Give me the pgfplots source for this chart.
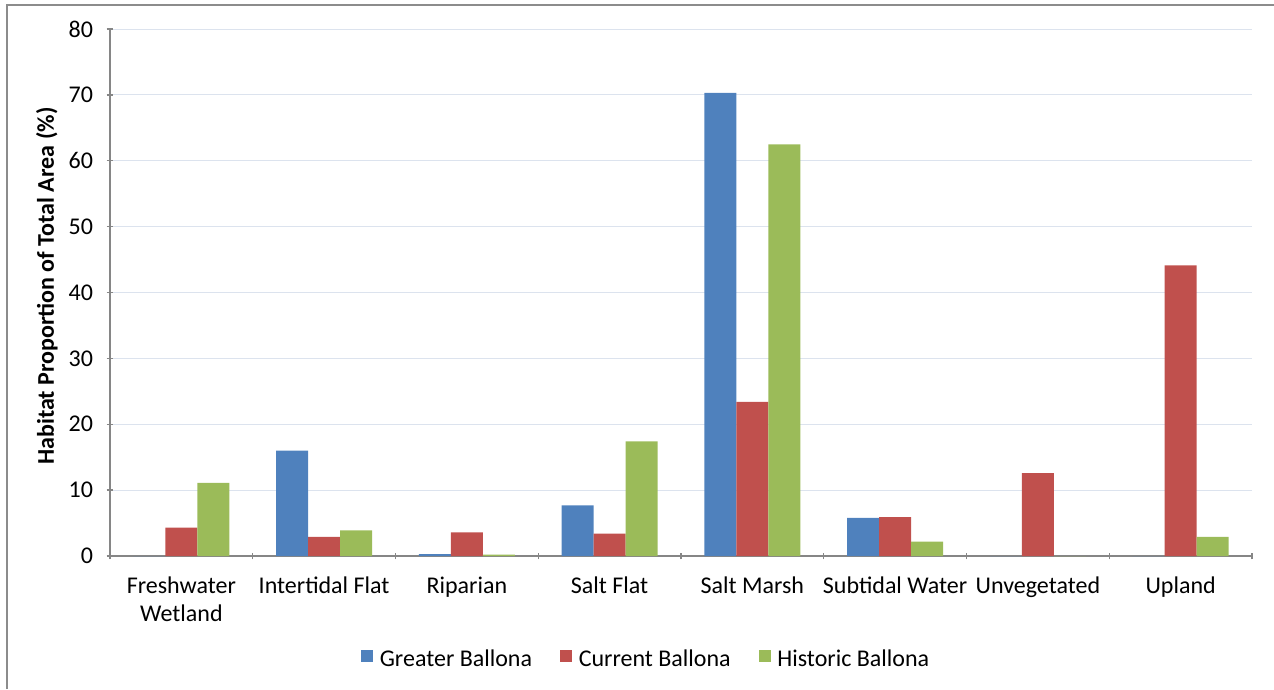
\documentclass[border=0pt]{standalone}
\usepackage{pgfplots}
\pgfplotsset{compat=1.18}
\usepackage{fontspec}
\setmainfont{Carlito}
\definecolor{cgreater}{HTML}{4F81BD}
\definecolor{ccurrent}{HTML}{C0504D}
\definecolor{chistoric}{HTML}{9BBB59}
\definecolor{gridc}{HTML}{DCE3EE}
\definecolor{axisc}{HTML}{868686}
\definecolor{framec}{HTML}{8C8C8C}
\begin{document}
\fontsize{18}{21}\selectfont
\begin{tikzpicture}
\path[use as bounding box] (0,0) rectangle (955.5pt,516.75pt);
\begin{axis}[
    at={(82.5pt,99.75pt)}, anchor=south west,
    scale only axis, width=856.5pt, height=395.25pt,
    ybar=0pt, bar width=0.224,
    xmin=-0.5, xmax=7.5, ymin=0, ymax=80,
    ytick={0,10,...,80},
    xtick={0,...,7},
    xticklabels={Freshwater\\Wetland, Intertidal Flat, Riparian, Salt Flat, Salt Marsh, Subtidal Water, Unvegetated, Upland},
    minor xtick={-0.5,0.5,...,7.5},
    xtick style={draw=none},
    minor x tick style={draw=axisc, line width=1pt},
    y tick style={draw=axisc, line width=1pt},
    major tick length=5pt, minor tick length=5pt,
    tick align=outside,
    axis x line=bottom, axis y line=left,
    axis line style={-, draw=axisc, line width=1pt},
    ymajorgrids, major grid style={draw=gridc, line width=0.75pt},
    /pgf/number format/assume math mode=true,
    tick label style={font=\fontsize{18}{21}\selectfont},
    xticklabel style={align=center, anchor=north, inner sep=0pt, yshift=-13pt},
    yticklabel style={anchor=east, inner sep=0pt, xshift=-10pt},
    ylabel={\bfseries Habitat Proportion of Total Area (\%)},
    ylabel style={at={(axis description cs:-0.0552,0.512)}, anchor=center, rotate=0, font=\fontsize{18}{21}\selectfont},
    legend columns=3,
    legend style={at={(0.4698,-0.1973)}, anchor=center, draw=none, fill=none,
        font=\fontsize{18}{21}\selectfont,
        /tikz/every even column/.append style={column sep=19pt},
        /tikz/every odd column/.append style={column sep=3pt}},
    legend image code/.code={\fill[#1] (0pt,-1.5pt) rectangle (9pt,7.5pt);},
]
\addplot[fill=cgreater, draw=none] coordinates {(0,0) (1,16.0) (2,0.3) (3,7.7) (4,70.3) (5,5.8) (6,0) (7,0)};
\addplot[fill=ccurrent, draw=none] coordinates {(0,4.3) (1,2.9) (2,3.6) (3,3.4) (4,23.4) (5,5.9) (6,12.6) (7,44.1)};
\addplot[fill=chistoric, draw=none] coordinates {(0,11.1) (1,3.9) (2,0.2) (3,17.4) (4,62.5) (5,2.2) (6,0) (7,2.9)};
\legend{Greater Ballona, Current Ballona, Historic Ballona}
\end{axis}
\draw[framec, line width=1.2pt] (5.25pt,0pt) -- (5.25pt,513pt) -- (955.5pt,513pt);
\end{tikzpicture}
\end{document}
